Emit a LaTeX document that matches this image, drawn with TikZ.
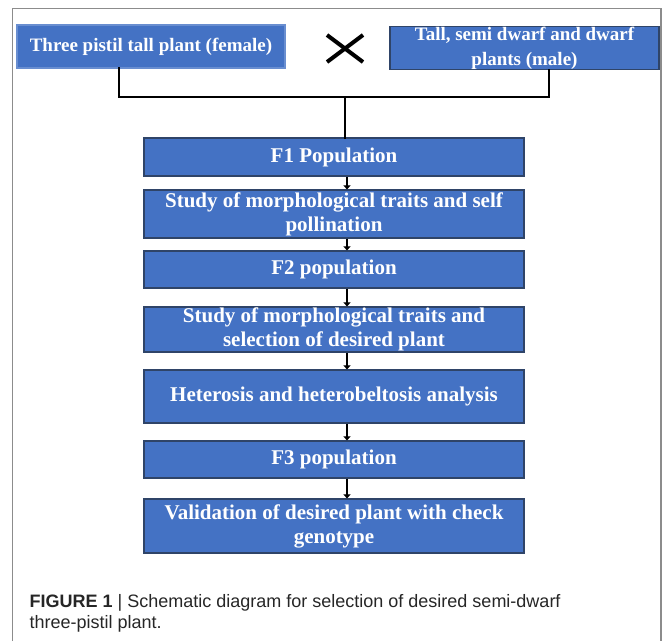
\documentclass[tikz,border=0pt]{standalone}
\usepackage{fontspec}
\setmainfont{Liberation Serif}
\newfontfamily\capfont{Liberation Sans}
\usetikzlibrary{arrows.meta}
\definecolor{boxblue}{HTML}{4472C4}
\definecolor{boxedge}{HTML}{2F4468}
\definecolor{framegray}{HTML}{8C8C8C}

\tikzset{
  stepbox/.style={draw=boxedge, line width=1.2pt, fill=boxblue, text=white,
    inner sep=0pt, align=center, font=\fontsize{21}{24}\selectfont\bfseries},
  parentbox/.style={stepbox, font=\fontsize{19}{25}\selectfont\bfseries},
  link/.style={line width=2.5pt, line cap=rect},
  arr/.style={line width=2.5pt, -{Triangle[length=4pt,width=7pt]}},
}

\begin{document}
\begin{tikzpicture}[x=1pt, y=-1pt]
			%%%%% START %%%%%
			\useasboundingbox (0, 0) rectangle (663, 641);
			\draw[framegray, line width=1.2pt] (12.7, 641) -- (12.7, 8.3) -- (661, 8.3) -- (661, 641);
			
			% parents
			\node[parentbox, draw=boxblue!80, minimum width=268pt, minimum height=43pt] (female) at (151, 46.5) {Three pistil tall plant (female)};
			\node[parentbox, minimum width=269pt, minimum height=42pt] (male) at (524.5, 48) {Tall, semi dwarf and dwarf\\plants (male)};
			\draw[line width=4pt] (327, 35) -- (363, 62);
			\draw[line width=4pt] (327, 62) -- (363, 35);
			
			\coordinate (stem) at (345, 97);
			\coordinate (lft) at (119, 97);
			\coordinate (rgt) at (549, 97);
			\draw[link] (female.south -| lft) -- (lft) -- (rgt) -- (male.south -| rgt);
			
			% chain
			\node[stepbox, minimum width=380pt, minimum height=38pt] (f1) at (334, 157) {F1 Population};
			\node[stepbox, minimum width=380pt, minimum height=48pt] (study1) at (334, 214) {Study of morphological traits and self\\pollination};
			\node[stepbox, minimum width=380pt, minimum height=37pt] (f2) at (334, 269.5) {F2 population};
			\node[stepbox, minimum width=380pt, minimum height=45pt] (study2) at (334, 329.5) {Study of morphological traits and\\selection of desired plant};
			\node[stepbox, minimum width=380pt, minimum height=53pt] (het) at (334, 396.5) {Heterosis and heterobeltosis analysis};
			\node[stepbox, minimum width=380pt, minimum height=37pt] (f3) at (334, 459.5) {F3 population};
			\node[stepbox, minimum width=380pt, minimum height=54pt] (valid) at (334, 526) {Validation of desired plant with check\\genotype};
			
			\draw[link] (stem) -- (stem |- f1.north);
			\coordinate (axis) at (347, 0);
			\foreach \a/\b in {f1/study1, study1/f2, f2/study2, study2/het, het/f3, f3/valid}
				\draw[arr] (axis |- \a.south) -- (axis |- \b.north);
			
			% caption
			\node[anchor=north west, inner sep=0pt, align=left, font=\capfont\fontsize{18}{21}\selectfont, text=black!85] (caption) at (29.5, 594)
				{\textbf{FIGURE 1} | Schematic diagram for selection of desired semi-dwarf\\three-pistil plant.};
			%%%%% END %%%%%
		\end{tikzpicture}
\end{document}
